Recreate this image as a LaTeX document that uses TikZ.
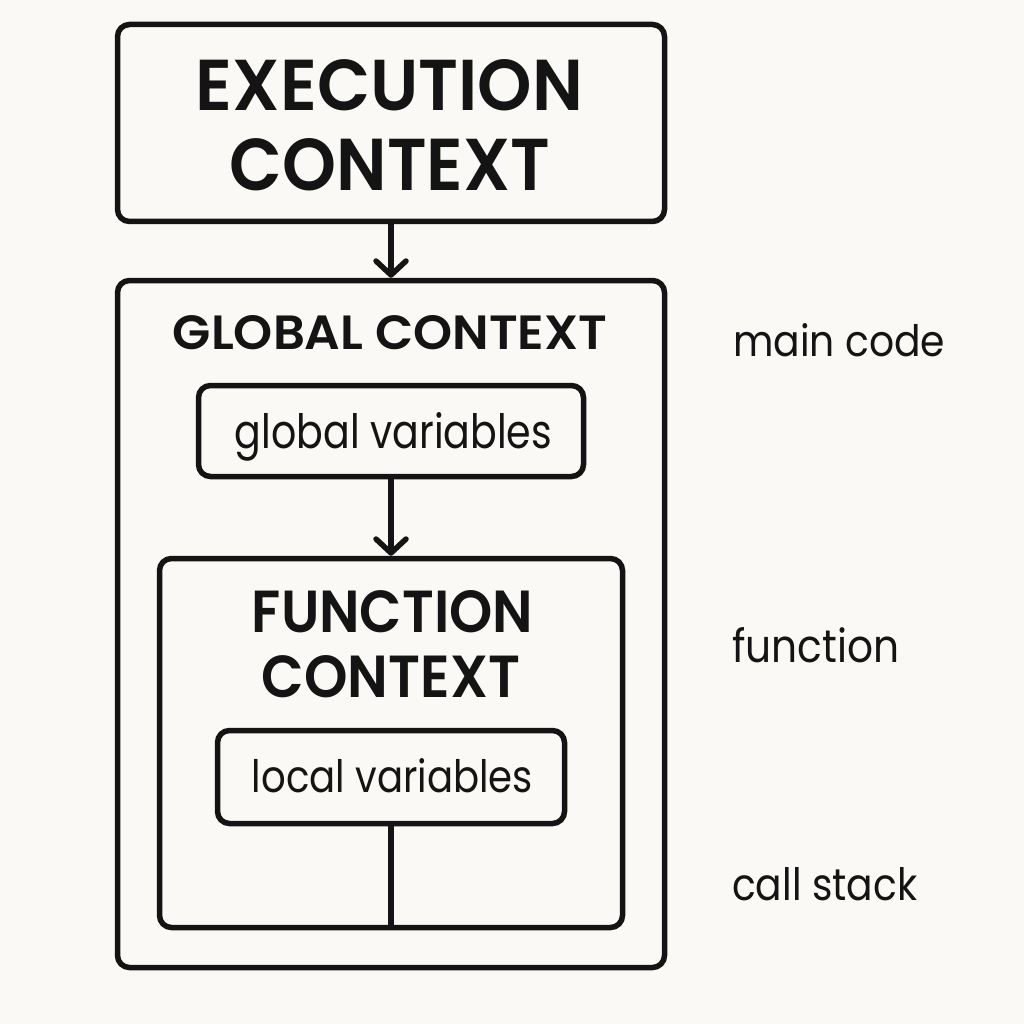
\documentclass[tikz,border=0pt]{standalone}
\usepackage{fontspec}
\setmainfont{Poppins}
\newfontfamily\headfont{Poppins SemiBold}
\usetikzlibrary{arrows.meta}
\definecolor{bg}{HTML}{FAF9F6}
\definecolor{ink}{HTML}{141414}
\newcommand\fitbox[3]{\resizebox{#1pt}{#2pt}{#3}}
\begin{document}
\begin{tikzpicture}[x=1pt,y=-1pt,
  box/.style={draw=ink,line width=5.5pt,rounded corners=12pt,inner sep=0pt},
  lbl/.style={inner sep=0pt,anchor=base,text=ink},
  side/.style={inner sep=0pt,anchor=base west,text=ink},
  arr/.style={draw=ink,line width=5.5pt,-{Straight Barb[length=14pt,width=30pt,line cap=round,line join=round]}},
  conn/.style={draw=ink,line width=5.5pt}]
\fill[bg] (0,0) rectangle (1024,1024);
\useasboundingbox (0,0) rectangle (1024,1024);
% boxes
\node[box,minimum width=547pt,minimum height=197pt] (exec) at (391,123) {};
\node[box,minimum width=547pt,minimum height=687pt] (outer) at (391,624) {};
\node[box,minimum width=385pt,minimum height=91pt] (gvar) at (391,431) {};
\node[box,minimum width=463pt,minimum height=369pt] (func) at (391,743) {};
\node[box,minimum width=347pt,minimum height=93pt] (lvar) at (391,777) {};
% texts
\node[lbl] (t1) at (389.5,111) {\fitbox{387}{51}{\headfont EXECUTION}};
\node[lbl] (t2) at (390,191) {\fitbox{320}{52}{\headfont CONTEXT}};
\node[lbl] (t3) at (390,349) {\fitbox{434}{34}{\headfont GLOBAL CONTEXT}};
\node[lbl] (t4) at (393.5,448) {\fitbox{317}{36}{global variables}};
\node[lbl] (t5) at (392.5,632) {\fitbox{281}{42}{\headfont FUNCTION}};
\node[lbl] (t6) at (391,697) {\fitbox{258}{42}{\headfont CONTEXT}};
\node[lbl] (t7) at (392.5,792) {\fitbox{281}{34}{local variables}};
\node[side] (s1) at (733,356) {\fitbox{212}{33}{main code}};
\node[side] (s2) at (732,662) {\fitbox{167}{35}{function}};
\node[side] (s3) at (732,900) {\fitbox{185}{33}{call stack}};
% connectors
\draw[arr] (exec.south) -- (outer.north);
\draw[arr] (gvar.south) -- (func.north);
\draw[conn] (lvar.south) -- (func.south);
\end{tikzpicture}
\end{document}
